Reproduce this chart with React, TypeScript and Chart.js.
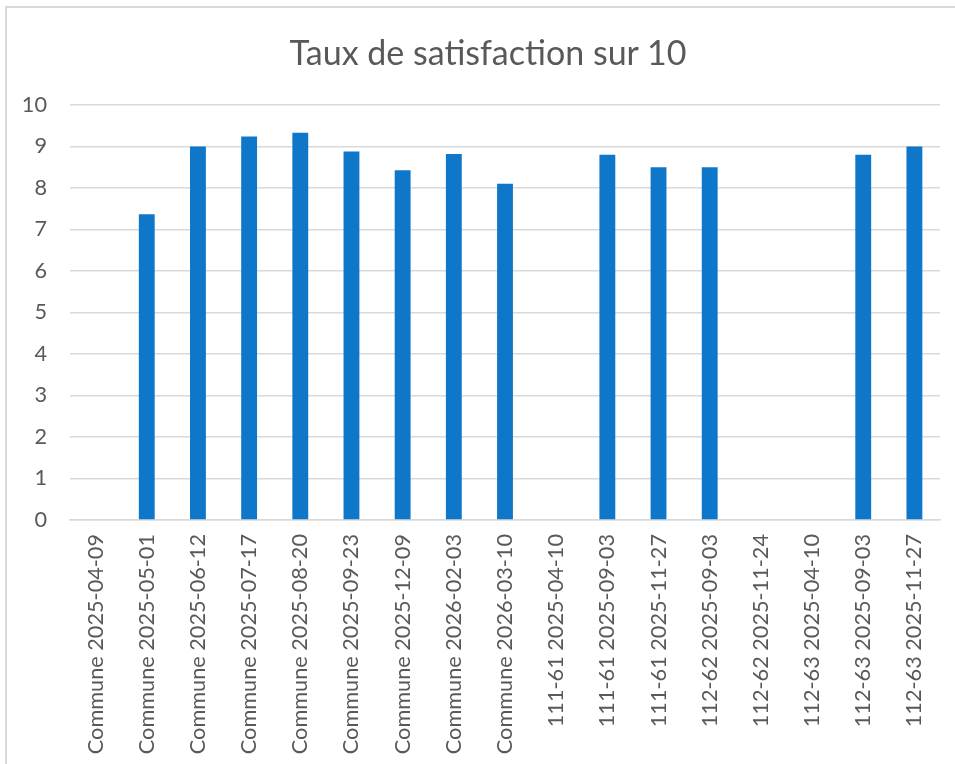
import React, { useEffect, useRef } from "react";
import { Chart, registerables } from "chart.js";

Chart.register(...registerables);

const titleText = "Taux de satisfaction sur 10";

const categories = [
  "Commune 2025-04-09",
  "Commune 2025-05-01",
  "Commune 2025-06-12",
  "Commune 2025-07-17",
  "Commune 2025-08-20",
  "Commune 2025-09-23",
  "Commune 2025-12-09",
  "Commune 2026-02-03",
  "Commune 2026-03-10",
  "111-61 2025-04-10",
  "111-61 2025-09-03",
  "111-61 2025-11-27",
  "112-62 2025-09-03",
  "112-62 2025-11-24",
  "112-63 2025-04-10",
  "112-63 2025-09-03",
  "112-63 2025-11-27",
];

const satisfaction: (number | null)[] = [
  null, 7.37, 9.0, 9.24, 9.33, 8.88, 8.43, 8.82, 8.1,
  null, 8.8, 8.5, 8.5, null, null, 8.8, 9.0,
];

const yMin = 0;
const yMax = 10;
const yStep = 1;

const FONT = "Lato, 'Open Sans', sans-serif";
const TEXT = "#595959";
const GRID = "#d9d9d9";
const BAR = "#0F77CA";

export default function App() {
  const ref = useRef<HTMLCanvasElement | null>(null);

  useEffect(() => {
    document.body.style.margin = "0";
    const canvas = ref.current;
    if (!canvas) return;
    const chart = new Chart(canvas, {
      type: "bar",
      data: {
        labels: categories,
        datasets: [
          {
            label: titleText,
            data: satisfaction,
            backgroundColor: BAR,
            borderWidth: 0,
            barPercentage: 0.31,
            categoryPercentage: 1,
          },
        ],
      },
      options: {
        animation: false,
        responsive: false,
        maintainAspectRatio: false,
        layout: { padding: { left: 0, right: 15, top: 105, bottom: 0 } },
        plugins: {
          legend: { display: false },
          tooltip: { enabled: false },
          title: { display: false },
        },
        scales: {
          x: {
            grid: { display: false, drawTicks: false },
            border: { display: true, color: GRID, width: 1.5 },
            ticks: {
              color: TEXT,
              font: { family: FONT, size: 21.7 },
              maxRotation: 90,
              minRotation: 90,
              autoSkip: false,
              padding: 14,
            },
            afterFit: (scale: any) => {
              scale.height = 244;
            },
          },
          y: {
            min: yMin,
            max: yMax,
            grid: { color: GRID, lineWidth: 1.5, drawTicks: false },
            border: { display: false },
            ticks: {
              stepSize: yStep,
              color: TEXT,
              font: { family: FONT, size: 21.7 },
              padding: 23,
            },
            afterFit: (scale: any) => {
              scale.width = 70;
            },
          },
        },
      },
    });
    return () => chart.destroy();
  }, []);

  return (
    <div style={{ position: "relative", width: 955, height: 764, overflow: "hidden", background: "#fff" }}>
      <canvas ref={ref} width={955} height={764} style={{ display: "block" }} />
      <div
        style={{
          position: "absolute",
          left: 88,
          top: 31,
          width: 800,
          height: 41,
          lineHeight: "41px",
          textAlign: "center",
          fontFamily: FONT,
          fontSize: 34,
          color: TEXT,
          whiteSpace: "nowrap",
        }}
      >
        {titleText}
      </div>
      <div
        style={{
          position: "absolute",
          left: 5,
          top: 6,
          width: 960,
          height: 770,
          borderLeft: "2px solid #d9d9d9",
          borderTop: "2px solid #d9d9d9",
          pointerEvents: "none",
        }}
      />
    </div>
  );
}
